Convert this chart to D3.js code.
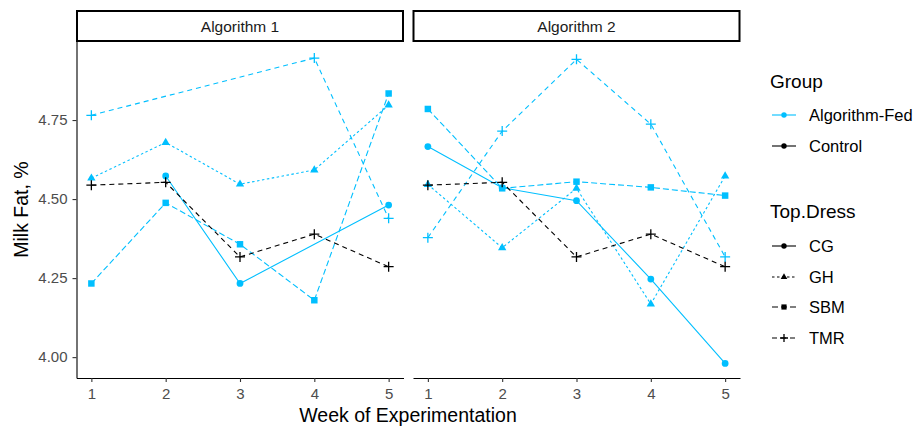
<!DOCTYPE html>
<html>
<head>
<meta charset="utf-8">
<script src="https://cdn.jsdelivr.net/npm/d3@7"></script>
<style>
  body { margin: 0; background: #ffffff; }
  text { font-family: "Liberation Sans", Arial, sans-serif; }
</style>
</head>
<body>
<svg id="chart" width="916" height="430"></svg>
<script>
// ---- data ---------------------------------------------------------------
const weeks = [1, 2, 3, 4, 5];
const facets = ["Algorithm 1", "Algorithm 2"];
const groups = ["Algorithm-Fed", "Control"];
const topDress = ["CG", "GH", "SBM", "TMR"];
const yTicks = [4.00, 4.25, 4.50, 4.75];

// Milk fat (%) by week; null = no observation that week
const alg1FedCG  = [null, 4.573, 4.233, null, 4.481];
const alg1FedGH  = [4.566, 4.679, 4.547, 4.592, 4.797];
const alg1FedSBM = [4.233, 4.488, 4.357, 4.180, 4.834];
const alg1FedTMR = [4.765, null, null, 4.946, 4.439];
const alg2FedCG  = [4.666, 4.536, 4.495, 4.247, 3.980];
const alg2FedGH  = [4.546, 4.346, 4.534, 4.168, 4.573];
const alg2FedSBM = [4.785, 4.534, 4.555, 4.537, 4.511];
const alg2FedTMR = [4.378, 4.715, 4.942, 4.737, 4.317];
const controlTMR = [4.544, 4.553, 4.317, 4.389, 4.286];

const series = [
  { facet: "Algorithm 1", group: "Algorithm-Fed", td: "CG",  values: alg1FedCG },
  { facet: "Algorithm 1", group: "Algorithm-Fed", td: "GH",  values: alg1FedGH },
  { facet: "Algorithm 1", group: "Algorithm-Fed", td: "SBM", values: alg1FedSBM },
  { facet: "Algorithm 1", group: "Algorithm-Fed", td: "TMR", values: alg1FedTMR },
  { facet: "Algorithm 1", group: "Control",       td: "TMR", values: controlTMR },
  { facet: "Algorithm 2", group: "Algorithm-Fed", td: "CG",  values: alg2FedCG },
  { facet: "Algorithm 2", group: "Algorithm-Fed", td: "GH",  values: alg2FedGH },
  { facet: "Algorithm 2", group: "Algorithm-Fed", td: "SBM", values: alg2FedSBM },
  { facet: "Algorithm 2", group: "Algorithm-Fed", td: "TMR", values: alg2FedTMR },
  { facet: "Algorithm 2", group: "Control",       td: "TMR", values: controlTMR }
];

// ---- styling ------------------------------------------------------------
const groupColor = d3.scaleOrdinal().domain(groups).range(["#00BFFF", "#000000"]);
const dashOf = d3.scaleOrdinal().domain(topDress).range([null, "2.5,2.5", "6,3", "5,4"]);

const plusPath = s => `M${-s},0H${s}M0,${-s}V${s}`;
function shapePath(td, k = 1) {
  if (td === "CG")  return d3.symbol(d3.symbolCircle, 36 * k * k)();
  if (td === "GH")  return d3.symbol(d3.symbolTriangle, 30 * k * k)();
  if (td === "SBM") return d3.symbol(d3.symbolSquare, 42 * k * k)();
  return plusPath(5 * k);
}
function drawShape(sel, td, color, k = 1) {
  sel.append("path")
    .attr("d", shapePath(td, k))
    .attr("fill", td === "TMR" ? "none" : color)
    .attr("stroke", td === "TMR" ? color : "none")
    .attr("stroke-width", td === "TMR" ? 1.3 : 0);
}

// ---- layout -------------------------------------------------------------
const svg = d3.select("#chart");
const panelTop = 41, panelBottom = 378;
const panelX = { "Algorithm 1": [76.5, 403.5], "Algorithm 2": [413, 740] };
const stripTop = 11;

const y = d3.scaleLinear().domain([3.934, 5.0]).range([panelBottom, panelTop]);

facets.forEach((facet, fi) => {
  const [x0, x1] = panelX[facet];
  const x = d3.scaleLinear().domain([0.8, 5.2]).range([x0, x1]);
  const g = svg.append("g");

  // strip
  g.append("rect")
    .attr("x", x0 + 0.5).attr("y", stripTop)
    .attr("width", x1 - x0 - 1).attr("height", panelTop - stripTop)
    .attr("fill", "#ffffff").attr("stroke", "#000000").attr("stroke-width", 2);
  g.append("text")
    .attr("x", (x0 + x1) / 2).attr("y", 32)
    .attr("text-anchor", "middle")
    .attr("font-size", 15.5).attr("fill", "#1a1a1a")
    .text(facet);

  // x axis
  const xa = g.append("g")
    .attr("transform", `translate(0,${panelBottom})`)
    .call(d3.axisBottom(x).tickValues(weeks).tickFormat(d3.format("d")).tickSize(4).tickSizeOuter(0).tickPadding(6));
  xa.select(".domain").attr("stroke", "#000000").attr("stroke-width", 1.1);
  xa.selectAll(".tick line").attr("stroke", "#333333").attr("stroke-width", 1.1);
  xa.selectAll(".tick text").attr("font-size", 15).attr("fill", "#4d4d4d")
    .attr("font-family", "Liberation Sans, Arial, sans-serif");

  // y axis only on the first panel
  if (fi === 0) {
    const ya = g.append("g")
      .attr("transform", `translate(${x0},0)`)
      .call(d3.axisLeft(y).tickValues(yTicks).tickFormat(d3.format(".2f")).tickSize(4).tickSizeOuter(0).tickPadding(5));
    ya.select(".domain").attr("stroke", "#000000").attr("stroke-width", 1.1);
    ya.selectAll(".tick line").attr("stroke", "#333333").attr("stroke-width", 1.1);
    ya.selectAll(".tick text").attr("font-size", 15).attr("fill", "#4d4d4d")
      .attr("font-family", "Liberation Sans, Arial, sans-serif");
  }

  const rows = series.filter(s => s.facet === facet)
    .sort((a, b) => groups.indexOf(a.group) - groups.indexOf(b.group));

  const line = d3.line()
    .defined(d => d.v != null)
    .x(d => x(d.w)).y(d => y(d.v));

  // lines: skip missing weeks and connect the remaining points
  rows.forEach(s => {
    const pts = weeks.map((w, i) => ({ w, v: s.values[i] })).filter(d => d.v != null);
    g.append("path")
      .datum(pts)
      .attr("d", line)
      .attr("fill", "none")
      .attr("stroke", groupColor(s.group))
      .attr("stroke-width", 1.1)
      .attr("stroke-dasharray", dashOf(s.td));
  });

  // points
  rows.forEach(s => {
    weeks.forEach((w, i) => {
      const v = s.values[i];
      if (v == null) return;
      const p = g.append("g").attr("transform", `translate(${x(w)},${y(v)})`);
      drawShape(p, s.td, groupColor(s.group));
    });
  });
});

// ---- axis titles --------------------------------------------------------
svg.append("text")
  .attr("x", 408).attr("y", 422)
  .attr("text-anchor", "middle")
  .attr("font-size", 19.5).attr("fill", "#000000")
  .text("Week of Experimentation");
svg.append("text")
  .attr("transform", `translate(28,${(panelTop + panelBottom) / 2}) rotate(-90)`)
  .attr("text-anchor", "middle")
  .attr("font-size", 19.5).attr("fill", "#000000")
  .text("Milk Fat, %");

// ---- legends ------------------------------------------------------------
const lg = svg.append("g");
const keyX0 = 772, keyX1 = 796, labelX = 809;

lg.append("text").attr("x", 770).attr("y", 88)
  .attr("font-size", 19).attr("fill", "#000000").text("Group");
const groupKeyY = [115, 146];
groups.forEach((grp, i) => {
  const yy = groupKeyY[i];
  lg.append("line").attr("x1", keyX0).attr("x2", keyX1).attr("y1", yy).attr("y2", yy)
    .attr("stroke", groupColor(grp)).attr("stroke-width", 1.1);
  const p = lg.append("g").attr("transform", `translate(${(keyX0 + keyX1) / 2},${yy})`);
  drawShape(p, "CG", groupColor(grp), 0.8);
  lg.append("text").attr("x", labelX).attr("y", yy).attr("dy", "0.35em")
    .attr("font-size", 16.5).attr("fill", "#000000").text(grp);
});

lg.append("text").attr("x", 770).attr("y", 218)
  .attr("font-size", 19).attr("fill", "#000000").text("Top.Dress");
const tdKeyY = [246, 277, 307, 338];
topDress.forEach((td, i) => {
  const yy = tdKeyY[i];
  lg.append("line").attr("x1", keyX0).attr("x2", keyX1).attr("y1", yy).attr("y2", yy)
    .attr("stroke", "#000000").attr("stroke-width", 1.1)
    .attr("stroke-dasharray", dashOf(td));
  const p = lg.append("g").attr("transform", `translate(${(keyX0 + keyX1) / 2},${yy})`);
  drawShape(p, td, "#000000", 0.8);
  lg.append("text").attr("x", labelX).attr("y", yy).attr("dy", "0.35em")
    .attr("font-size", 16.5).attr("fill", "#000000").text(td);
});
</script>
</body>
</html>
